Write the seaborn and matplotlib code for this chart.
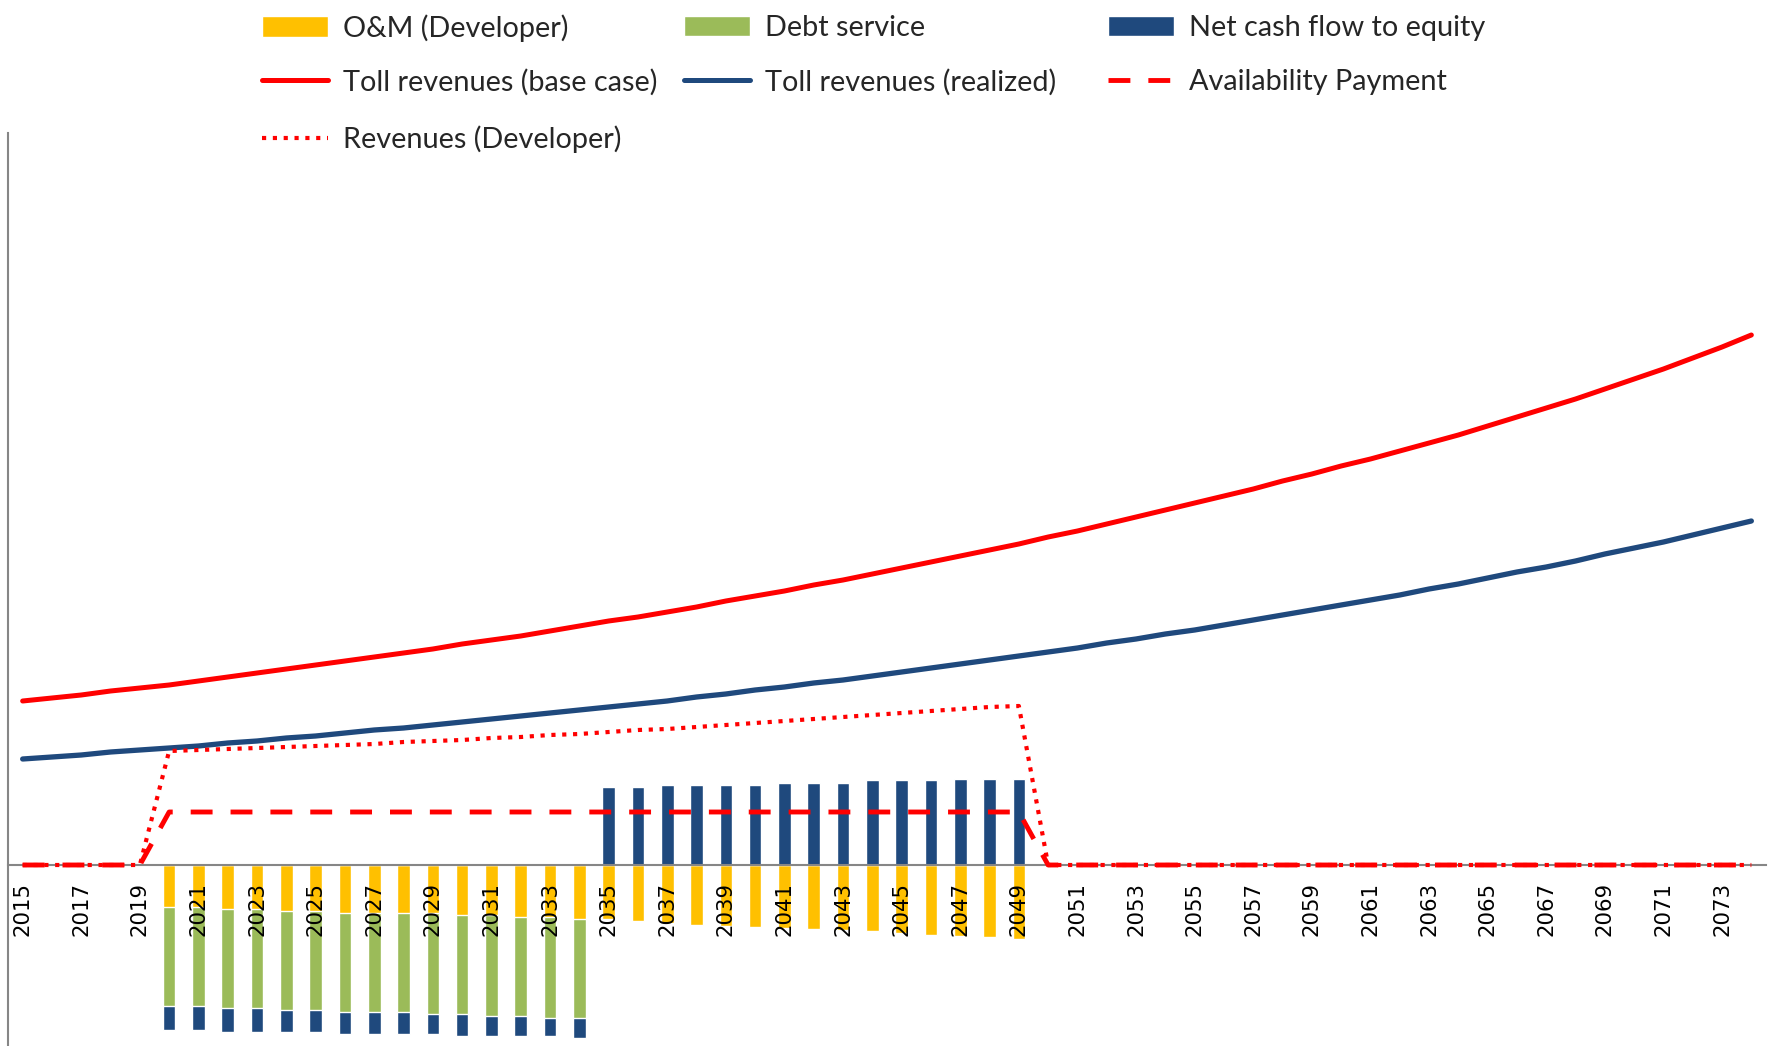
import numpy as np
import pandas as pd
import matplotlib
matplotlib.use("Agg")
import matplotlib.pyplot as plt
import seaborn as sns
from matplotlib.patches import Patch
from matplotlib.lines import Line2D

# years on the category axis
years = list(range(2015, 2075))

# toll revenue lines (chart units, no scale shown)
toll_base = [164, 167, 170, 174, 177, 180, 184, 188, 192, 196,
             200, 204, 208, 212, 216, 221, 225, 229, 234, 239,
             244, 248, 253, 258, 264, 269, 274, 280, 285, 291,
             297, 303, 309, 315, 321, 328, 334, 341, 348, 355,
             362, 369, 376, 384, 391, 399, 406, 414, 422, 430,
             439, 448, 457, 466, 476, 486, 496, 507, 518, 530]
toll_realized = [106, 108, 110, 113, 115, 117, 119, 122, 124, 127,
                 129, 132, 135, 137, 140, 143, 146, 149, 152, 155,
                 158, 161, 164, 168, 171, 175, 178, 182, 185, 189,
                 193, 197, 201, 205, 209, 213, 217, 222, 226, 231,
                 235, 240, 245, 250, 255, 260, 265, 270, 276, 281,
                 287, 293, 298, 304, 311, 317, 323, 330, 337, 344]

# concession period 2020-2049
ops_years = list(range(2020, 2050))
dev_revenues = [114, 115, 116, 117, 118, 119, 120, 121, 123, 124,
                125, 127, 128, 130, 131, 133, 135, 136, 138, 140,
                142, 144, 146, 148, 150, 152, 154, 156, 158, 159]
availability = [53, 53, 53, 53, 53, 53, 53, 53, 53, 53,
                53, 53, 53, 53, 53, 53, 53, 53, 53, 53,
                53, 53, 53, 53, 53, 53, 53, 53, 53, 53]
om_cost = [42, 42, 44, 44, 46, 46, 48, 48, 48, 48,
           50, 50, 52, 52, 54, 54, 56, 58, 60, 61,
           62, 63, 64, 65, 66, 68, 70, 71, 72, 74]
equity_cf = [-24, -24, -24, -24, -22, -22, -22, -22, -22, -20,
             -22, -20, -20, -18, -20, 78, 78, 80, 80, 80,
             80, 82, 82, 82, 85, 85, 85, 86, 86, 86]

# debt service 2020-2034
debt_years = list(range(2020, 2035))
debt_service = [99, 99, 99, 99, 99, 99, 99, 99, 99, 101,
                99, 101, 99, 101, 99]

YELLOW = "#FFC000"
GREEN = "#9BBB59"
NAVY = "#1F497D"
RED = "#FF0000"
GREY = "#868686"

df = pd.DataFrame({"year": years, "toll_base": toll_base, "toll_realized": toll_realized})
ops = pd.DataFrame({"year": ops_years, "dev": dev_revenues, "ap": availability,
                    "om": om_cost, "eq": equity_cf})
debt = pd.DataFrame({"year": debt_years, "ds": debt_service})
df = df.merge(ops, on="year", how="left").merge(debt, on="year", how="left").fillna(0)
df["label"] = df["year"].astype(str)
df["pos"] = np.arange(len(df))
df["eq_neg"] = df["eq"].clip(upper=0)
df["eq_pos"] = df["eq"].clip(lower=0)
df["neg_total"] = -df["om"] - df["ds"] + df["eq_neg"]
df["neg_om_ds"] = -df["om"] - df["ds"]
df["neg_om"] = -df["om"]

sns.set_style("white")
plt.rcParams["font.family"] = ["DejaVu Sans"]

fig = plt.figure(figsize=(17.7, 10.46), dpi=100)
ax = fig.add_axes([8 / 1770, 0, 1758 / 1770, 913 / 1046])

order = df["label"].tolist()
bar_kw = dict(x="label", order=order, width=0.43, saturation=1, errorbar=None, ax=ax)
sns.barplot(data=df, y="neg_total", color=NAVY, **bar_kw)
sns.barplot(data=df, y="neg_om_ds", color=GREEN, **bar_kw)
sns.barplot(data=df, y="neg_om", color=YELLOW, **bar_kw)
sns.barplot(data=df, y="eq_pos", color=NAVY, **bar_kw)

# lines
sns.lineplot(data=df, x="pos", y="toll_base", color=RED, lw=3.6, ax=ax, zorder=4)
sns.lineplot(data=df, x="pos", y="toll_realized", color=NAVY, lw=3.8, ax=ax, zorder=4)
sns.lineplot(data=df, x="pos", y="dev", color=RED, lw=3.0, ls=(0, (1, 1.6)), ax=ax, zorder=4)
sns.lineplot(data=df, x="pos", y="ap", color=RED, lw=3.5, ls=(0, (4.5, 3.7)), ax=ax, zorder=4)

ax.set_xlim(-0.5, len(years) - 0.5)
ax.set_ylim(-181, 732)
ax.set_yticks([])
ax.set_xlabel("")
ax.set_ylabel("")

# axis line through zero (done before tick styling, it resets the ticks)
for s in ["top", "right"]:
    ax.spines[s].set_visible(False)
ax.spines["bottom"].set_position(("data", 0))
for s in ["left", "bottom"]:
    ax.spines[s].set_color(GREY)
    ax.spines[s].set_linewidth(1.5)

ax.set_xticks(np.arange(0, len(years), 2))
ax.set_xticklabels(order[::2])
ax.set_xticks(np.arange(-0.5, len(years), 1), minor=True)
ax.tick_params(axis="x", which="major", length=0, pad=12, labelsize=15.3,
               labelrotation=90, colors="black")
ax.tick_params(axis="x", which="minor", length=8, width=1.3, color=GREY, direction="out")
# year labels sit on top of the negative bars, as in the source
ax.xaxis.set_zorder(3.5)

# legend: one entry per slot so the columns sit where they do in the source
entries = [
    (Patch(facecolor=YELLOW), "O&M (Developer)", 262, 28),
    (Patch(facecolor=GREEN), "Debt service", 684, 28),
    (Patch(facecolor=NAVY), "Net cash flow to equity", 1108, 28),
    (Line2D([], [], color=RED, lw=3.6), "Toll revenues (base case)", 262, 82),
    (Line2D([], [], color=NAVY, lw=3.6), "Toll revenues (realized)", 684, 82),
    (Line2D([], [], color=RED, lw=3.5, ls=(0, (4.5, 3.7))), "Availability Payment", 1108, 82),
    (Line2D([], [], color=RED, lw=3.0, ls=(0, (1, 1.6))), "Revenues (Developer)", 262, 139),
]
for handle, text, x, y in entries:
    fig.legend([handle], [text], loc="center left",
               bbox_to_anchor=(x / 1770, 1 - y / 1046),
               frameon=False, borderpad=0, borderaxespad=0,
               handlelength=2.3, handleheight=0.72, handletextpad=0.5,
               prop={"family": ["Lato", "DejaVu Sans"], "size": 20.8})

fig.savefig("out.png", dpi=100)
